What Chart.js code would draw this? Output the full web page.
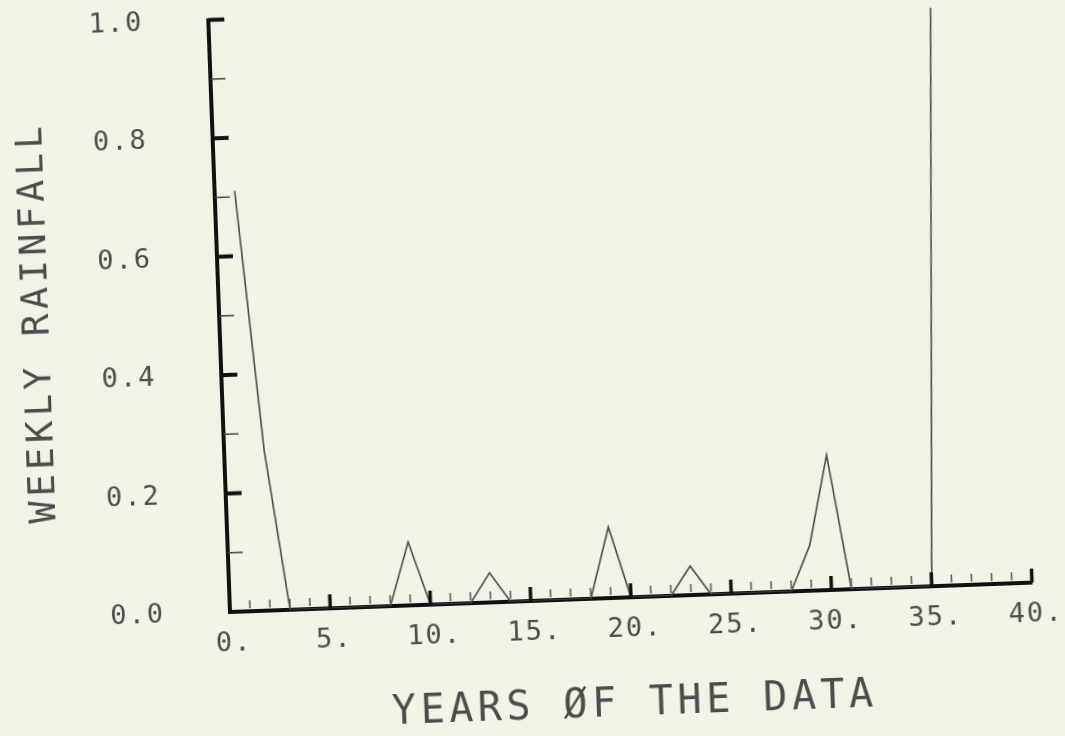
<!DOCTYPE html>
<html>
<head>
<meta charset="utf-8">
<script src="https://cdn.jsdelivr.net/npm/chart.js@4.4.1/dist/chart.umd.min.js"></script>
<style>
  html, body { margin: 0; padding: 0; background: #f3f2e6; overflow: hidden; }
  /* the scanned plot is tilted a little, so the whole chart is turned about its origin */
  #wrap { width: 1065px; height: 736px; transform: rotate(-2.1deg); transform-origin: 230px 612px; }
</style>
</head>
<body>
<div id="wrap"><canvas id="chart" width="1065" height="736"></canvas></div>
<script>
// data
const years = [1, 2, 3, 4, 5, 6, 7, 8, 9, 10, 11, 12, 13, 14, 15, 16, 17, 18,
  19, 20, 21, 22, 23, 24, 25, 26, 27, 28, 29, 30, 31, 32, 33, 34, 35, 36];
const rainfall = [0.71, 0.27, 0, 0, 0, 0, 0, 0, 0.107, 0, 0, 0, 0.05, 0, 0, 0, 0, 0,
  0.12, 0, 0, 0, 0.049, 0, 0, 0, 0, 0, 0.077, 0.228, 0, 0, 0, 0, 0, 0.976];

const xTickValues = [0, 5, 10, 15, 20, 25, 30, 35, 40];
const xTickLabels = ["0.", "5.", "10.", "15.", "20.", "25.", "30.", "35.", "40."];
const yTickValues = [0, 0.2, 0.4, 0.6, 0.8, 1.0];
const yTickLabels = ["0.0", "0.2", "0.4", "0.6", "0.8", "1.0"];

const ink = "#4c4c4c";
const mono = "DejaVu Sans Mono";

function yIndex(v) {
  return yTickValues.findIndex(t => Math.abs(t - v) < 1e-6);
}

// plotter style spacing: titles wider, tick labels a bit
const spacing = {
  id: "spacing",
  beforeDraw(chart) { chart.ctx.letterSpacing = "4.5px"; },
  afterDatasetsDraw(chart) { chart.ctx.letterSpacing = "2px"; },
  afterDraw(chart) { chart.ctx.letterSpacing = "0px"; }
};

// tick marks point into the plot
const innerTicks = {
  id: "innerTicks",
  afterDraw(chart) {
    const { ctx, scales: { x, y } } = chart;
    const base = y.getPixelForValue(0);
    const left = x.getPixelForValue(0);
    ctx.save();
    ctx.lineCap = "butt";
    x.ticks.forEach(t => {
      const px = x.getPixelForValue(t.value);
      const major = xTickValues.includes(t.value);
      ctx.lineWidth = major ? 3.5 : 1.5;
      ctx.strokeStyle = major ? "#111" : "#555";
      ctx.beginPath();
      ctx.moveTo(px, major ? base : base - 3);
      ctx.lineTo(px, major ? base - 14 : base - 11);
      ctx.stroke();
    });
    y.ticks.forEach(t => {
      const py = y.getPixelForValue(t.value);
      const major = yIndex(t.value) >= 0;
      ctx.lineWidth = major ? 4 : 1.5;
      ctx.strokeStyle = major ? "#111" : "#444";
      ctx.beginPath();
      ctx.moveTo(left, py);
      ctx.lineTo(left + (major ? 16 : 15), py);
      ctx.stroke();
    });
    ctx.restore();
  }
};

// the outward library ticks are kept invisible, they only set the label distance
const hiddenGrid = (len) => ({
  display: true,
  drawOnChartArea: false,
  drawTicks: true,
  tickLength: len,
  color: "rgba(0,0,0,0)"
});

new Chart(document.getElementById("chart"), {
  type: "line",
  data: {
    datasets: [{
      data: years.map((yr, i) => ({ x: yr, y: rainfall[i] })),
      borderColor: "#4a4a4a",
      borderWidth: 1.6,
      pointRadius: 0,
      tension: 0,
      fill: false
    }]
  },
  options: {
    responsive: false,
    animation: false,
    layout: { padding: { top: 19.6, right: 32.5, left: 0, bottom: 0 } },
    plugins: { legend: { display: false }, tooltip: { enabled: false } },
    scales: {
      x: {
        type: "linear",
        min: 0,
        max: 40,
        afterFit(scale) { scale.height = 124; },
        grid: hiddenGrid(14),
        border: { display: true, color: "#111", width: 4 },
        ticks: {
          stepSize: 1,
          autoSkip: false,
          maxRotation: 0,
          padding: 2,
          labelOffset: 3,
          z: 1,
          color: ink,
          font: { family: mono, size: 27 },
          callback: v => {
            const i = xTickValues.indexOf(v);
            return i >= 0 ? xTickLabels[i] : "";
          }
        },
        title: {
          display: true,
          text: "YEARS ØF THE DATA",
          color: ink,
          font: { family: mono, size: 40, lineHeight: 0.8 },
          padding: { top: 0, bottom: 0 }
        }
      },
      y: {
        min: 0,
        max: 1,
        afterFit(scale) { scale.width = 230; },
        grid: hiddenGrid(63),
        border: { display: true, color: "#111", width: 4 },
        ticks: {
          stepSize: 0.1,
          autoSkip: false,
          padding: 2,
          labelOffset: 1,
          z: 1,
          color: ink,
          font: { family: mono, size: 27 },
          callback: v => {
            const i = yIndex(v);
            return i >= 0 ? yTickLabels[i] : "";
          }
        },
        title: {
          display: true,
          text: "WEEKLY RAINFALL",
          color: ink,
          font: { family: mono, size: 37, lineHeight: 1.2 },
          padding: { top: 27, bottom: 0 }
        }
      }
    }
  },
  plugins: [spacing, innerTicks]
});
</script>
</body>
</html>
